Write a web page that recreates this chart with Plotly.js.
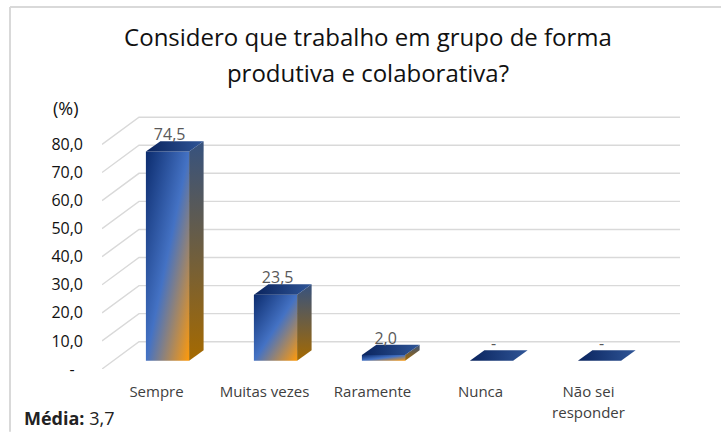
<!DOCTYPE html>
<html><head><meta charset="utf-8">
<script src="https://cdn.plot.ly/plotly-3.0.1.min.js"></script>
<style>html,body{margin:0;padding:0;background:#fff}#c{width:721px;height:432px}</style>
</head><body><div id="c"></div>
<script>
const categories = ['Sempre','Muitas vezes','Raramente','Nunca','Não sei<br>responder'];
const values = [74.5,23.5,2.0,0,0];
const valueLabels = ['74,5','23,5','2,0','-','-'];
const axisTicks = [0,10,20,30,40,50,60,70,80];
const axisLabels = ['-\u00a0\u00a0','10,0','20,0','30,0','40,0','50,0','60,0','70,0','80,0'];
const chartTitle = 'Considero que trabalho em grupo de forma<br>produtiva e colaborativa?';

const FONT = '"Open Sans", "Noto Sans", sans-serif';
const W=721,H=432, L=102,R=680,T=100,B=369.3;
const pxPerCat=108, pxPerUnit=2.81;
// pseudo-3D planes, in pixels relative to plot box
const barX0=167.5, labelX0=156.5, barY0=361;
const rangeX=x0=>[(L-x0)/pxPerCat,(R-x0)/pxPerCat];
const rangeY=y0=>[(y0-B)/pxPerUnit,(y0-T)/pxPerUnit];
const barW=0.40, dx=14.5/pxPerCat, dy=10.4/pxPerUnit;
const toX=px=>(px-labelX0)/pxPerCat, toY=py=>(B-py)/pxPerUnit;
const idx=categories.map((_,i)=>i);

const traces=[];
// wall gridlines + left diagonals, on the base subplot so bars sit above them
const gx=[],gy=[];
axisTicks.forEach(v=>{
  const back=toY(342)+v, front=v;
  gx.push(toX(102),toX(139),toX(680),null);
  gy.push(front,back,back,null);
});
traces.push({type:'scatter',mode:'lines',x:gx,y:gy,xaxis:'x',yaxis:'y',connectgaps:false,cliponaxis:false,
  line:{color:'#d9d9d9',width:1.4},hoverinfo:'skip',showlegend:false});
// front faces
traces.push({type:'bar',x:idx,y:values,width:barW,xaxis:'x2',yaxis:'y2',
  marker:{color:'#4472c4',line:{width:0}},hoverinfo:'skip',showlegend:false});
// side + top faces
values.forEach((v,i)=>{
  const r=i+barW/2, l=i-barW/2;
  if(v>0) traces.push({type:'scatter',mode:'lines',fill:'toself',
    x:[r,r+dx,r+dx,r,r],y:[0,dy,v+dy,v,0],xaxis:'x2',yaxis:'y2',line:{width:0},
    fillgradient:{type:'vertical',colorscale:[[0,'#a66a00'],[1,'#36527f']]},
    hoverinfo:'skip',showlegend:false});
  traces.push({type:'scatter',mode:'lines',fill:'toself',
    x:[l,r,r+dx,l+dx,l],y:[v,v,v+dy,v+dy,v],xaxis:'x2',yaxis:'y2',line:{width:0},
    fillgradient:{type:'horizontal',colorscale:[[0,'#0a245e'],[1,'#2f5597']]},
    hoverinfo:'skip',showlegend:false});
});
// value labels
traces.push({type:'scatter',mode:'text',x:idx.map(i=>i+0.02),y:values.map(v=>v+dy-1),text:valueLabels,
  textposition:'top center',textfont:{family:FONT,size:16,color:'#595959'},
  xaxis:'x2',yaxis:'y2',hoverinfo:'skip',showlegend:false});

const layout={
  width:W,height:H,autosize:false,paper_bgcolor:'#fff',plot_bgcolor:'rgba(0,0,0,0)',showlegend:false,
  margin:{l:L,r:W-R,t:T,b:H-B,pad:0},
  title:{text:chartTitle,x:368/W,xanchor:'center',y:1-46/H,yanchor:'middle',font:{family:FONT,size:24,color:'#111'}},
  xaxis:{range:rangeX(labelX0),tickmode:'array',tickvals:idx,ticktext:categories,showgrid:false,zeroline:false,showline:false,
    ticks:'',ticklen:0,tickangle:0,ticklabelstandoff:12,tickfont:{family:FONT,size:15,color:'#404040'},automargin:false},
  yaxis:{range:rangeY(369.3),tickmode:'array',tickvals:axisTicks,ticktext:axisLabels,showgrid:false,zeroline:false,showline:false,
    ticks:'',ticklabelstandoff:18,tickfont:{family:FONT,size:16,color:'#111'},automargin:false},
  xaxis2:{range:rangeX(barX0),overlaying:'x',visible:false,fixedrange:true},
  yaxis2:{range:rangeY(barY0),overlaying:'y',visible:false,fixedrange:true},
  annotations:[
    {xref:'paper',yref:'paper',x:(66-L)/(R-L),y:(B-108)/(B-T),xanchor:'center',yanchor:'middle',text:'(%)',showarrow:false,
      font:{family:FONT,size:18,color:'#111'}},
    {xref:'paper',yref:'paper',x:(23-L)/(R-L),y:(B-431.5)/(B-T),xanchor:'left',yanchor:'bottom',borderpad:0,text:'<b>Média:</b> 3,7',showarrow:false,
      font:{family:FONT,size:18,color:'#222'}}
  ],
  shapes:[
    {type:'line',xref:'paper',yref:'paper',x0:(10-L)/(R-L),x1:(721-L)/(R-L),y0:(B-7)/(B-T),y1:(B-7)/(B-T),line:{color:'#d9d9d9',width:2}},
    {type:'line',xref:'paper',yref:'paper',x0:(10-L)/(R-L),x1:(10-L)/(R-L),y0:(B-7)/(B-T),y1:(B-432)/(B-T),line:{color:'#d9d9d9',width:2}}
  ]
};
function spreadLines(textEl,px){
  const ls=textEl.querySelectorAll('tspan.line');
  if(ls.length<2) return;
  const first=parseFloat(ls[0].getAttribute('y'));
  const fs=parseFloat(getComputedStyle(textEl).fontSize);
  if(ls[1].hasAttribute('dy')) ls[1].setAttribute('dy',(px/fs)+'em');
  else ls[1].setAttribute('y',first+px);
}
Plotly.newPlot('c',traces,layout,{displayModeBar:false,staticPlot:true}).then(gd=>{
  const svg=gd.querySelector('.main-svg');
  const defs=svg.querySelector('defs');
  const NS='http://www.w3.org/2000/svg';
  const g=document.createElementNS(NS,'linearGradient');
  g.setAttribute('id','barFront');
  g.setAttribute('x1','0');g.setAttribute('y1','0');g.setAttribute('x2','1');g.setAttribute('y2','1');
  [['0','#0c2c6e'],['0.5','#4472c4'],['1','#ff9a0a']].forEach(s=>{
    const st=document.createElementNS(NS,'stop');st.setAttribute('offset',s[0]);st.setAttribute('stop-color',s[1]);g.appendChild(st);
  });
  defs.appendChild(g);
  gd.querySelectorAll('.barlayer .point path').forEach(p=>{p.style.fill='url(#barFront)';});
  const t=gd.querySelector('.gtitle'); if(t) spreadLines(t,36);
  gd.querySelectorAll('.xtick text').forEach(e=>spreadLines(e,21));
});
</script></body></html>
